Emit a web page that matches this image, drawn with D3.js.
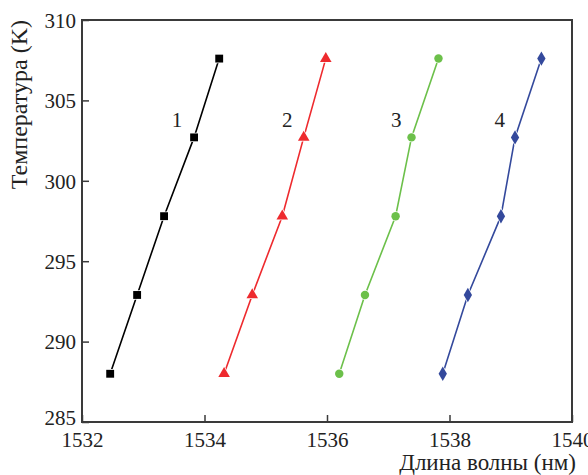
<!DOCTYPE html>
<html>
<head>
<meta charset="utf-8">
<script src="https://cdn.jsdelivr.net/npm/d3@7"></script>
<style>
  body { margin: 0; background: #fff; }
  svg text { font-family: "Liberation Serif", "DejaVu Serif", serif; fill: #222; }
</style>
</head>
<body>
<div id="chart"></div>
<script>
// temperatures (K), same for every curve
var temps = [288.0, 292.9, 297.8, 302.7, 307.6];

// wavelengths (nm)
var wave1 = [1532.46, 1532.90, 1533.34, 1533.83, 1534.24];
var wave2 = [1534.32, 1534.78, 1535.27, 1535.62, 1535.98];
var wave3 = [1536.20, 1536.62, 1537.12, 1537.38, 1537.82];
var wave4 = [1537.89, 1538.30, 1538.84, 1539.07, 1539.50];

var curveNames = ["1", "2", "3", "4"];
var labelX = [1533.55, 1535.35, 1537.13, 1538.82];
var labelY = 303.8;

var xTicks = [1532, 1534, 1536, 1538, 1540];
var yTicks = [285, 290, 295, 300, 305, 310];

var colors = ["#000000", "#ee2a2e", "#6cc04a", "#34499c"];
var shapes = [d3.symbolSquare, d3.symbolTriangle, d3.symbolCircle, d3.symbolDiamond];
var sizes = [62, 58, 56, 60];

var margin = {top: 20, right: 16, bottom: 53, left: 82};
var W = 588, H = 475;
var width = W - margin.left - margin.right;
var height = H - margin.top - margin.bottom;

var svg = d3.select("#chart").append("svg")
  .attr("width", W)
  .attr("height", H);

var g = svg.append("g")
  .attr("transform", "translate(" + margin.left + "," + margin.top + ")");

var x = d3.scaleLinear().domain([1532, 1540]).range([0, width]);
var y = d3.scaleLinear().domain([285, 310]).range([height, 0]);

var axisColor = "#3a3a3a";

// frame
g.append("rect")
  .attr("x", 0).attr("y", 0)
  .attr("width", width).attr("height", height)
  .attr("fill", "none")
  .attr("stroke", axisColor)
  .attr("stroke-width", 2);

// bottom axis, ticks pointing in
var xAxis = g.append("g")
  .attr("transform", "translate(0," + height + ")")
  .call(d3.axisBottom(x).tickValues(xTicks).tickFormat(d3.format("d")).tickSizeInner(-7).tickSizeOuter(0).tickPadding(10));
xAxis.select(".domain").remove();
xAxis.selectAll("line").attr("stroke", axisColor).attr("stroke-width", 1.5);
xAxis.selectAll("text").style("font-size", "21px").attr("fill", "#222").style("font-family", "Liberation Serif");

// left axis
var yAxis = g.append("g")
  .call(d3.axisLeft(y).tickValues(yTicks).tickFormat(d3.format("d")).tickSizeInner(-7).tickSizeOuter(0).tickPadding(6));
yAxis.select(".domain").remove();
yAxis.selectAll("line").attr("stroke", axisColor).attr("stroke-width", 1.5);
yAxis.selectAll("text").style("font-size", "21px").attr("fill", "#222").style("font-family", "Liberation Serif")
  .attr("dy", function(d) { return d == 285 ? "0.12em" : "0.35em"; });

// axis titles
svg.append("text")
  .attr("x", 576)
  .attr("y", 470)
  .attr("text-anchor", "end")
  .style("font-size", "23px")
  .text("Длина волны (нм)");

svg.append("text")
  .attr("transform", "translate(27,20) rotate(-90)")
  .attr("text-anchor", "end")
  .style("font-size", "24px")
  .text("Температура (K)");

// curves
var series = [wave1, wave2, wave3, wave4].map(function(w, i) {
  return w.map(function(v, j) { return {x: v, y: temps[j]}; });
});

var line = d3.line()
  .x(function(d) { return x(d.x); })
  .y(function(d) { return y(d.y); });

series.forEach(function(s, i) {
  g.append("path")
    .attr("d", line(s))
    .attr("fill", "none")
    .attr("stroke", colors[i])
    .attr("stroke-width", 1.6);

  g.selectAll(".pt" + i)
    .data(s)
    .enter().append("path")
    .attr("class", "pt" + i)
    .attr("transform", function(d) { return "translate(" + x(d.x) + "," + y(d.y) + ")"; })
    .attr("d", d3.symbol().type(shapes[i]).size(sizes[i]))
    .attr("fill", colors[i])
    .attr("stroke", "#fff")
    .attr("stroke-width", 1.5)
    .attr("paint-order", "stroke");
});

// curve numbers
g.selectAll(".num")
  .data(curveNames)
  .enter().append("text")
  .attr("class", "num")
  .attr("x", function(d, i) { return x(labelX[i]); })
  .attr("y", y(labelY))
  .attr("dy", "0.35em")
  .attr("text-anchor", "middle")
  .style("font-size", "21px")
  .text(function(d) { return d; });
</script>
</body>
</html>
